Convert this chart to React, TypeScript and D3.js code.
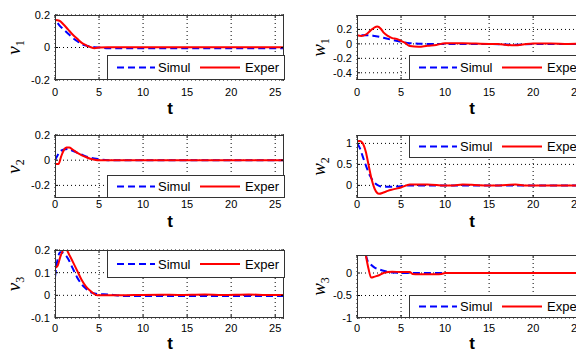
import React, { useRef, useEffect } from "react";
import * as d3 from "d3";

// x axis shared by all panels
const xTicks = [0, 5, 10, 15, 20, 25];

// v1
const v1SimT = [0.3, 0.6, 1, 1.5, 2, 2.5, 3, 3.5, 4, 4.5, 5, 6, 10, 15, 20, 26];
const v1Sim = [0.15, 0.13, 0.11, 0.085, 0.06, 0.04, 0.022, 0.012, 0.006, 0.002, 0, -0.004, -0.004, -0.004, -0.004, -0.004];
const v1ExpT = [0, 0.5, 1, 1.5, 2, 2.5, 3, 3.5, 4, 4.5, 5, 6, 10, 15, 20, 26];
const v1Exp = [0.17, 0.165, 0.14, 0.11, 0.08, 0.055, 0.03, 0.015, 0.003, -0.004, 0, 0.002, 0.002, 0.002, 0.002, 0.002];

// w1
const w1SimT = [0.5, 1, 1.5, 2, 2.5, 3, 4, 5, 6, 7, 8, 10, 15, 17, 18, 20, 26];
const w1Sim = [0.12, 0.12, 0.12, 0.11, 0.1, 0.085, 0.055, 0.03, 0.01, 0.002, 0, 0, 0, -0.01, -0.012, 0, 0];
const w1ExpT = [0, 0.5, 1, 1.5, 2, 2.3, 2.7, 3, 3.5, 4, 4.5, 5, 5.5, 6, 7, 8, 9, 10, 12, 15, 16, 17, 18, 19, 20, 22, 24, 26];
const w1Exp = [0.12, 0.11, 0.13, 0.18, 0.23, 0.24, 0.21, 0.16, 0.11, 0.08, 0.07, 0.04, 0.01, -0.03, -0.04, -0.025, -0.015, 0.01, 0.01, 0, 0, -0.015, -0.02, -0.005, 0.005, 0.005, 0, 0.005];

// v2
const v2SimT = [0, 0.3, 0.6, 1, 1.5, 2, 2.5, 3, 3.5, 4, 5, 6, 10, 26];
const v2Sim = [0, 0.04, 0.07, 0.085, 0.09, 0.075, 0.06, 0.045, 0.03, 0.02, 0.008, 0, 0, 0];
const v2ExpT = [0, 0.4, 0.7, 1, 1.3, 1.6, 2, 2.5, 3, 3.5, 4, 4.5, 5, 10, 26];
const v2Exp = [-0.03, -0.03, 0.03, 0.08, 0.1, 0.1, 0.085, 0.06, 0.04, 0.025, 0.012, 0.004, 0, 0, 0];

// w2
const w2SimT = [0, 0.3, 0.6, 1, 1.5, 2, 2.5, 3, 4, 5, 6, 8, 10, 26];
const w2Sim = [1.0, 0.9, 0.72, 0.48, 0.22, 0.06, -0.01, -0.03, -0.03, -0.02, 0, 0, 0, 0];
const w2ExpT = [0, 0.3, 0.6, 1, 1.3, 1.6, 2, 2.5, 3, 3.5, 4, 5, 6, 7, 8, 10, 11, 12, 13, 15, 17, 18, 19, 20, 22, 26];
const w2Exp = [1.05, 1.06, 1.02, 0.8, 0.5, 0.2, -0.08, -0.2, -0.17, -0.13, -0.1, -0.05, 0.02, 0.02, 0.02, -0.005, 0.0, 0.02, 0.015, -0.005, 0.01, 0.02, 0.0, -0.005, 0.0, 0.0];

// v3
const v3SimT = [0, 0.3, 0.6, 1, 1.5, 2, 2.5, 3, 3.5, 4, 4.5, 5, 6, 8, 26];
const v3Sim = [0.08, 0.16, 0.19, 0.185, 0.16, 0.12, 0.08, 0.05, 0.03, 0.015, 0.008, 0.005, 0.004, -0.003, -0.003];
const v3ExpT = [0, 0.3, 0.6, 1, 1.3, 1.6, 2, 2.5, 3, 3.5, 4, 4.5, 4.8, 6, 12, 14, 17, 19, 22, 24, 26];
const v3Exp = [0.12, 0.13, 0.17, 0.2, 0.2, 0.18, 0.15, 0.11, 0.07, 0.04, 0.02, 0.005, 0, 0, 0.003, 0.002, 0.004, 0.002, 0.004, 0.001, 0.002];

// w3
const w3SimT = [1, 1.2, 1.5, 2, 2.5, 3, 3.5, 4, 6, 26];
const w3Sim = [0.4, 0.27, 0.2, 0.12, 0.08, 0.05, 0.025, 0.01, 0, 0];
const w3ExpT = [1, 1.3, 1.6, 2, 2.5, 3, 3.5, 4, 5, 6, 6.3, 7, 9, 9.6, 10, 15, 20, 26];
const w3Exp = [0.4, 0.1, -0.1, -0.08, -0.05, 0, 0.02, 0.03, 0.02, 0.02, -0.02, -0.025, -0.025, -0.02, 0, 0, 0, 0];

const legendNames = ["Simul", "Exper"];

type Panel = {
  name: string; sub: string;
  left: number; top: number; bottom: number;
  yDomain: [number, number]; yTicks: number[];
  simT: number[]; sim: number[]; expT: number[]; exp: number[];
  legend: "top" | "bottom"; legendH: number;
  tickY: number; tLabelY: number; labelX: number;
};

const panels: Panel[] = [
  { name: "v", sub: "1", left: 55, top: 15, bottom: 80, yDomain: [-0.2, 0.2], yTicks: [-0.2, 0, 0.2],
    simT: v1SimT, sim: v1Sim, expT: v1ExpT, exp: v1Exp, legend: "bottom", legendH: 25, tickY: 96, tLabelY: 114, labelX: 16 },
  { name: "w", sub: "1", left: 357, top: 15, bottom: 80, yDomain: [-0.5, 0.4], yTicks: [-0.4, -0.2, 0, 0.2],
    simT: w1SimT, sim: w1Sim, expT: w1ExpT, exp: w1Exp, legend: "bottom", legendH: 25, tickY: 96, tLabelY: 114, labelX: 321 },
  { name: "v", sub: "2", left: 55, top: 135, bottom: 198, yDomain: [-0.3, 0.2], yTicks: [-0.2, 0, 0.2],
    simT: v2SimT, sim: v2Sim, expT: v2ExpT, exp: v2Exp, legend: "bottom", legendH: 23, tickY: 208, tLabelY: 227, labelX: 16 },
  { name: "w", sub: "2", left: 357, top: 135, bottom: 198, yDomain: [-0.3, 1.2], yTicks: [0, 0.5, 1],
    simT: w2SimT, sim: w2Sim, expT: w2ExpT, exp: w2Exp, legend: "top", legendH: 23, tickY: 208, tLabelY: 227, labelX: 321 },
  { name: "v", sub: "3", left: 55, top: 250, bottom: 318, yDomain: [-0.1, 0.2], yTicks: [-0.1, 0, 0.1, 0.2],
    simT: v3SimT, sim: v3Sim, expT: v3ExpT, exp: v3Exp, legend: "top", legendH: 28, tickY: 332, tLabelY: 349, labelX: 16 },
  { name: "w", sub: "3", left: 357, top: 255, bottom: 318, yDomain: [-1, 0.4], yTicks: [-1, -0.5, 0],
    simT: w3SimT, sim: w3Sim, expT: w3ExpT, exp: w3Exp, legend: "bottom", legendH: 23, tickY: 332, tLabelY: 349, labelX: 321 },
];

const W = 576, H = 358, PW = 229;
const sans = "Arial, 'Liberation Sans', Helvetica, sans-serif";
const serif = "'Times New Roman', 'Liberation Serif', serif";

export default function App() {
  const svgRef = useRef<SVGSVGElement>(null);

  useEffect(() => {
    const svg = d3.select(svgRef.current);
    svg.selectAll("*").remove();
    svg.append("rect").attr("width", W).attr("height", H).attr("fill", "#fff");

    panels.forEach((p, i) => {
      const x = d3.scaleLinear().domain([0, 26]).range([p.left, p.left + PW]);
      const y = d3.scaleLinear().domain(p.yDomain).range([p.bottom, p.top]);
      const g = svg.append("g");
      const clipId = `clip${i}`;
      g.append("clipPath").attr("id", clipId).append("rect")
        .attr("x", p.left).attr("y", p.top).attr("width", PW).attr("height", p.bottom - p.top);

      // grid
      g.selectAll(".gx").data(xTicks).join("line")
        .attr("x1", (d) => x(d)).attr("x2", (d) => x(d))
        .attr("y1", p.top).attr("y2", p.bottom)
        .attr("stroke", "#000").attr("stroke-width", 1).attr("stroke-dasharray", "1,3");
      g.selectAll(".gy").data(p.yTicks).join("line")
        .attr("x1", p.left).attr("x2", p.left + PW)
        .attr("y1", (d) => y(d)).attr("y2", (d) => y(d))
        .attr("stroke", "#000").attr("stroke-width", 1).attr("stroke-dasharray", "1,3");

      // curves
      const line = d3.line<[number, number]>()
        .x((d) => x(d[0])).y((d) => y(d[1])).curve(d3.curveMonotoneX);
      const plot = g.append("g").attr("clip-path", `url(#${clipId})`);
      plot.append("path").datum(p.simT.map((t, k) => [t, p.sim[k]] as [number, number]))
        .attr("d", line).attr("fill", "none").attr("stroke", "#0000ff")
        .attr("stroke-width", 2).attr("stroke-dasharray", "7,4");
      plot.append("path").datum(p.expT.map((t, k) => [t, p.exp[k]] as [number, number]))
        .attr("d", line).attr("fill", "none").attr("stroke", "#ff0000").attr("stroke-width", 2);

      // ticks
      g.selectAll(".tx").data(xTicks).join("path")
        .attr("d", (d) => `M${x(d)},${p.bottom}v-3M${x(d)},${p.top}v3`)
        .attr("stroke", "#000");
      g.selectAll(".ty").data(p.yTicks).join("path")
        .attr("d", (d) => `M${p.left},${y(d)}h3M${p.left + PW},${y(d)}h-3`)
        .attr("stroke", "#000");

      // box
      g.append("rect").attr("x", p.left + 0.5).attr("y", p.top + 0.5)
        .attr("width", PW - 1).attr("height", p.bottom - p.top - 1)
        .attr("fill", "none").attr("stroke", "#333").attr("stroke-width", 1);

      // tick labels
      g.selectAll(".xl").data(xTicks).join("text")
        .attr("x", (d) => x(d)).attr("y", p.tickY).attr("text-anchor", "middle")
        .attr("font-family", sans).attr("font-size", 11).attr("fill", "#000")
        .text((d) => String(d));
      g.selectAll(".yl").data(p.yTicks).join("text")
        .attr("x", p.left - 5).attr("y", (d) => y(d)).attr("dy", "0.35em").attr("text-anchor", "end")
        .attr("font-family", sans).attr("font-size", 11).attr("fill", "#000")
        .text((d) => String(d));

      // axis labels
      g.append("text").attr("x", p.left + 115).attr("y", p.tLabelY).attr("text-anchor", "middle")
        .attr("font-family", sans).attr("font-size", 17).attr("font-weight", "bold").text("t");
      const cy = (p.top + p.bottom) / 2;
      const yl = g.append("text")
        .attr("transform", `translate(${p.labelX + 4},${cy}) rotate(-90)`)
        .attr("text-anchor", "middle").attr("font-family", serif).attr("font-style", "italic")
        .attr("font-size", 19);
      yl.append("tspan").text(p.name);
      yl.append("tspan").attr("font-size", 12).attr("font-style", "normal").attr("dy", 4).text(p.sub);

      // legend
      const lx = p.left + 52, lw = 177;
      const ly = p.legend === "top" ? p.top : p.bottom - p.legendH;
      const lg = g.append("g");
      lg.append("rect").attr("x", lx + 0.5).attr("y", ly + 0.5).attr("width", lw).attr("height", p.legendH - 1)
        .attr("fill", "#fff").attr("stroke", "#333");
      const my = ly + p.legendH / 2;
      lg.append("line").attr("x1", lx + 10).attr("x2", lx + 48).attr("y1", my).attr("y2", my)
        .attr("stroke", "#0000ff").attr("stroke-width", 2).attr("stroke-dasharray", "7,4");
      lg.append("line").attr("x1", lx + 93).attr("x2", lx + 133).attr("y1", my).attr("y2", my)
        .attr("stroke", "#ff0000").attr("stroke-width", 2);
      lg.selectAll(".lt").data(legendNames).join("text")
        .attr("x", (d, k) => lx + (k === 0 ? 51 : 138)).attr("y", my).attr("dy", "0.36em")
        .attr("font-family", sans).attr("font-size", 13).attr("fill", "#000")
        .text((d) => d);
    });
  }, []);

  return (
    <svg ref={svgRef} width={W} height={H}
      style={{ position: "absolute", left: 0, top: 0, display: "block" }} />
  );
}
